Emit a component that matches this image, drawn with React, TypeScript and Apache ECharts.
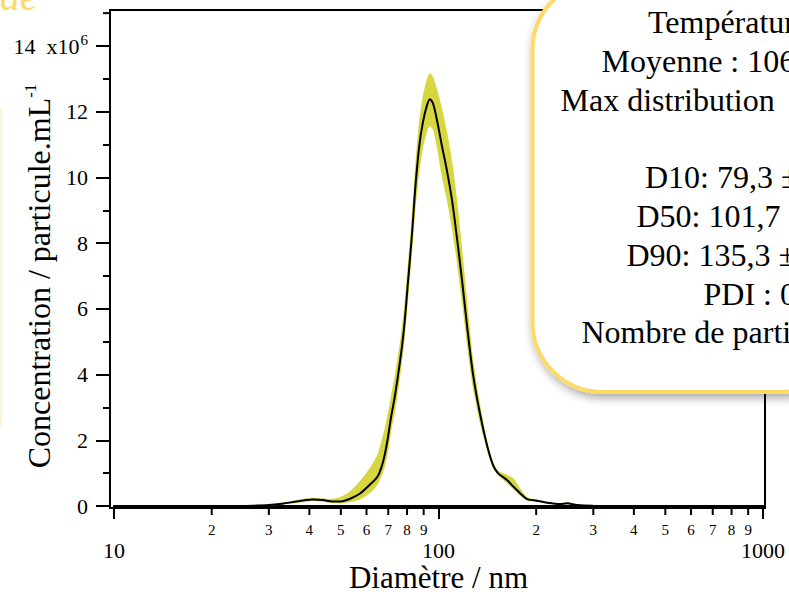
import { useEffect, useRef } from 'react';
import * as echarts from 'echarts';

const FONT = '"Liberation Serif", "DejaVu Serif", serif';

// Diameter (nm)
const diameters = [10, 15, 20, 25, 27, 30, 32.9, 36.1, 39.0, 41.0, 44.1, 47.0, 50.0, 53.4, 57.3, 61.9, 64.9, 66.8, 68.4, 69.9, 71.4, 73.4, 76.1, 78.3, 80.5, 82.9, 84.7, 87.1, 89.6, 92.2, 94.1, 96.2, 98.9, 102.5, 106.2, 110.1, 113.2, 118.1, 122.4, 127.8, 134.3, 141.1, 147.2, 152.5, 162.6, 169.7, 178.4, 187.4, 201.2, 216.0, 236.8, 248.9, 267.2, 299.3, 448.7, 1000];
// Concentration (x10^6 particles/mL)
const meanConc = [0, 0, 0, 0, 0.01, 0.03, 0.07, 0.13, 0.18, 0.2, 0.18, 0.14, 0.14, 0.22, 0.38, 0.68, 0.9, 1.2, 1.6, 2.1, 2.7, 3.35, 4.4, 5.4, 6.8, 8.3, 9.6, 10.9, 11.7, 12.2, 12.38, 12.25, 11.75, 10.95, 10.2, 9.3, 8.4, 6.9, 5.5, 4.0, 2.8, 1.85, 1.25, 1.0, 0.79, 0.6, 0.39, 0.21, 0.16, 0.1, 0.06, 0.08, 0.03, 0.01, 0, 0];
const lowerConc = [0, 0, 0, 0, 0, 0.01, 0.04, 0.09, 0.13, 0.15, 0.13, 0.09, 0.08, 0.12, 0.2, 0.42, 0.65, 0.92, 1.2, 1.65, 2.25, 2.85, 3.9, 4.9, 6.2, 7.7, 8.9, 10.1, 10.9, 11.4, 11.56, 11.45, 10.9, 10.0, 9.3, 8.4, 7.6, 6.2, 4.9, 3.55, 2.5, 1.7, 1.15, 0.93, 0.7, 0.52, 0.32, 0.17, 0.13, 0.08, 0.04, 0.05, 0.02, 0, 0, 0];
const upperConc = [0, 0, 0, 0.01, 0.02, 0.05, 0.1, 0.17, 0.23, 0.25, 0.23, 0.22, 0.28, 0.45, 0.76, 1.2, 1.58, 2.0, 2.4, 2.85, 3.35, 4.0, 5.0, 6.0, 7.4, 8.95, 10.3, 11.7, 12.5, 13.0, 13.17, 13.05, 12.7, 12.1, 11.4, 10.5, 9.6, 7.9, 6.3, 4.5, 3.1, 2.0, 1.35, 1.08, 0.95, 0.85, 0.55, 0.28, 0.19, 0.12, 0.08, 0.11, 0.05, 0.01, 0, 0];

const minorXTicks = [20, 30, 40, 50, 60, 70, 80, 90, 200, 300, 400, 500, 600, 700, 800, 900];
const extraYMinorTicks = [15];

const boxLines = [
  { text: 'Température', x: 648 },
  { text: 'Moyenne : 106', x: 601.5 },
  { text: 'Max distribution', x: 560.5 },
  { text: '', x: 600 },
  { text: 'D10: 79,3 ±', x: 645 },
  { text: 'D50: 101,7 ±', x: 636.5 },
  { text: 'D90: 135,3 ±', x: 626.5 },
  { text: 'PDI : 0', x: 703.5 },
  { text: 'Nombre de particules', x: 581.5 },
];

export default function App() {
  const ref = useRef<HTMLDivElement>(null);
  useEffect(() => {
    const chart = echarts.init(ref.current!, null, { renderer: 'svg' });
    const bandData = diameters.map((d, i) => [d, lowerConc[i], upperConc[i]]);
    const meanData = diameters.map((d, i) => [d, meanConc[i]]);

    const option: any = {
      animation: false,
      backgroundColor: '#ffffff',
      grid: { left: 114, right: 26, top: 46, bottom: 88, containLabel: false, outerBoundsMode: 'none' },
      xAxis: {
        type: 'log',
        logBase: 10,
        min: 10,
        max: 1000,
        offset: 2,
        axisLine: { show: true, lineStyle: { color: '#000', width: 2 } },
        axisTick: { show: true, length: 13, lineStyle: { color: '#000', width: 2 } },
        axisLabel: { fontSize: 22, lineHeight: 18, fontFamily: FONT, color: '#000', margin: 33, formatter: (v: number) => String(Math.round(v)) },
        splitLine: { show: false },
        minorTick: { show: false },
        name: 'Diamètre / nm',
        nameLocation: 'middle',
        nameGap: 56.5,
        nameMoveOverlap: false,
        nameTextStyle: { fontSize: 31, lineHeight: 26, fontFamily: FONT, color: '#000' },
      },
      yAxis: {
        type: 'value',
        min: 0,
        max: 14,
        interval: 2,
        offset: 4,
        axisLine: { show: true, lineStyle: { color: '#000', width: 2 } },
        axisTick: { show: true, length: 14, lineStyle: { color: '#000', width: 2 } },
        minorTick: { show: true, splitNumber: 2, length: 7, lineStyle: { color: '#000', width: 2 } },
        splitLine: { show: false },
        minorSplitLine: { show: false },
        axisLabel: {
          fontSize: 22,
          fontFamily: FONT,
          color: '#000',
          margin: 22,
          formatter: (v: number) => (v === 14 ? '14  x10{sup|6}' : String(v)),
          rich: { sup: { fontSize: 15, fontFamily: FONT, color: '#000', padding: [0, 0, 12, 1] } },
        },
        name: 'Concentration / particule.mL{sup|-1}',
        nameLocation: 'middle',
        nameRotate: 90,
        nameGap: 55,
        nameMoveOverlap: false,
        nameTextStyle: {
          fontSize: 32,
          fontFamily: FONT,
          color: '#000',
          rich: { sup: { fontSize: 17, fontFamily: FONT, color: '#000', padding: [0, 0, 16, 0] } },
        },
      },
      series: [
        {
          type: 'custom',
          data: bandData,
          encode: { x: 0, y: [1, 2] },
          silent: true,
          z: 1,
          renderItem: (params: any, api: any) => {
            if (params.dataIndex !== 0) return null;
            const upperPts = bandData.map((r) => api.coord([r[0], r[2]]));
            const lowerPts = bandData.map((r) => api.coord([r[0], r[1]])).reverse();
            return {
              type: 'polygon',
              shape: { points: upperPts.concat(lowerPts), smooth: 0.25 },
              style: { fill: '#D6D73E', stroke: 'none' },
            };
          },
        },
        {
          type: 'line',
          data: meanData,
          smooth: 0.3,
          symbol: 'none',
          lineStyle: { color: '#000', width: 2 },
          z: 3,
        },
        {
          type: 'custom',
          data: minorXTicks.map((v) => [v, 0]),
          encode: { x: 0, y: 1 },
          silent: true,
          renderItem: (params: any, api: any) => {
            const v = api.value(0);
            const p = api.coord([v, 0]);
            const mant = Math.round(v / Math.pow(10, Math.floor(Math.log10(v) + 1e-9)));
            return {
              type: 'group',
              children: [
                { type: 'line', shape: { x1: p[0], y1: p[1] + 2, x2: p[0], y2: p[1] + 9 }, style: { stroke: '#000', lineWidth: 2 } },
                {
                  type: 'text',
                  style: { text: String(mant), x: p[0], y: p[1] + 24, fontSize: 15, fontFamily: FONT, fill: '#000', align: 'center', verticalAlign: 'middle' },
                },
              ],
            };
          },
        },
        {
          type: 'custom',
          data: extraYMinorTicks.map((v) => [10, v]),
          encode: { x: 0, y: 1 },
          silent: true,
          renderItem: (params: any, api: any) => {
            const p = api.coord([api.value(0), api.value(1)]);
            return { type: 'line', shape: { x1: p[0] - 11, y1: p[1], x2: p[0] - 4, y2: p[1] }, style: { stroke: '#000', lineWidth: 2 } };
          },
        },
      ],
      graphic: [
        { type: 'rect', shape: { x: 110, y: 10, width: 655, height: 498 }, style: { fill: 'none', stroke: '#000', lineWidth: 2 }, z: 0, silent: true },
        { type: 'rect', shape: { x: -2, y: 108, width: 4, height: 318 }, style: { fill: '#FFF3D2' }, z: 0, silent: true },
        {
          type: 'text',
          style: { text: 'de', x: 0, y: -3.5, fontSize: 40, fontStyle: 'italic', fontFamily: FONT, fill: '#FFD966', align: 'left', verticalAlign: 'middle' },
          z: 0,
        },
        {
          type: 'rect',
          shape: { x: 532.5, y: -20, width: 320, height: 412, r: 70 },
          style: { fill: '#ffffff', stroke: '#FFD966', lineWidth: 4, shadowBlur: 10, shadowColor: 'rgba(0,0,0,0.35)', shadowOffsetX: 2, shadowOffsetY: 4 },
          z: 100,
        },
        ...boxLines
          .filter((l) => l.text)
          .map((l) => ({
            type: 'text',
            z: 101,
            style: {
              text: l.text,
              x: l.x,
              y: 22 + 38.8 * boxLines.indexOf(l),
              fontSize: 32,
              fontFamily: FONT,
              fill: '#000',
              align: 'left',
              verticalAlign: 'middle',
            },
          })),
      ],
    };
    chart.setOption(option);
    return () => chart.dispose();
  }, []);
  return <div ref={ref} style={{ width: 789, height: 594, position: 'absolute', left: 0, top: 0 }} />;
}
